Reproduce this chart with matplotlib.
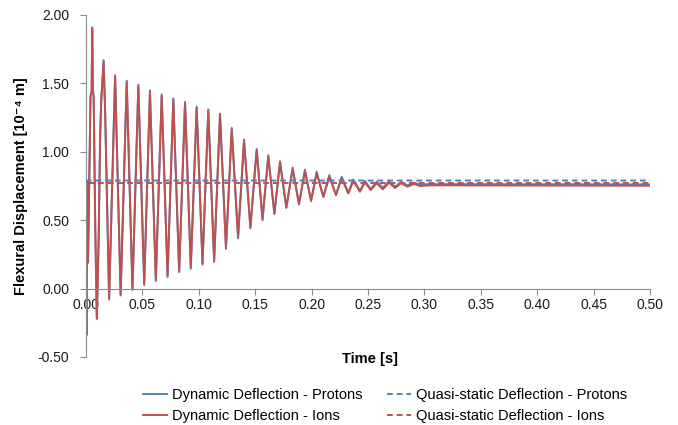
import numpy as np
import matplotlib
matplotlib.use('Agg')
import matplotlib.pyplot as plt

plt.rcParams['font.family'] = ['Liberation Sans', 'DejaVu Sans']
plt.rcParams['font.size'] = 10

# times of the read-off extrema [s]
time = [0.0000, 0.0004, 0.0012, 0.0018, 0.0040, 0.0050, 0.0055, 0.0061, 0.0068, 0.0082,
        0.0096, 0.0112, 0.0125, 0.0135, 0.0156, 0.0170, 0.0205, 0.0258, 0.0307, 0.0361,
        0.0412, 0.0464, 0.0516, 0.0567, 0.0619, 0.0671, 0.0723, 0.0774, 0.0826, 0.0878,
        0.0929, 0.0981, 0.1033, 0.1084, 0.1136, 0.1188, 0.1241, 0.1292, 0.1348, 0.1401,
        0.1457, 0.1513, 0.1565, 0.1616, 0.1670, 0.1720, 0.1776, 0.1832, 0.1888, 0.1941,
        0.1995, 0.2045, 0.2104, 0.2157, 0.2216, 0.2267, 0.2325, 0.2370, 0.2429, 0.2473,
        0.2525, 0.2577, 0.2632, 0.2686, 0.2740, 0.2793, 0.2850, 0.2908, 0.2960, 0.3050,
        0.5000]

dyn_protons = [0.00, -0.34, 0.78, 0.19, 1.41, 1.45, 1.91, 1.46, 1.41, 0.45,
               -0.22, 0.35, 1.11, 1.38, 1.67, 1.29, -0.08, 1.56, -0.05, 1.52,
               -0.01, 1.49, 0.025, 1.45, 0.055, 1.42, 0.085, 1.39, 0.12, 1.365,
               0.146, 1.33, 0.175, 1.31, 0.195, 1.28, 0.29, 1.175, 0.367, 1.09,
               0.44, 1.02, 0.50, 0.975, 0.545, 0.93, 0.59, 0.885, 0.615, 0.87,
               0.64, 0.855, 0.67, 0.83, 0.685, 0.818, 0.70, 0.797, 0.715, 0.787,
               0.728, 0.782, 0.737, 0.785, 0.745, 0.78, 0.755, 0.775, 0.76, 0.764,
               0.762]

dyn_ions = [0.00, -0.34, 0.75, 0.19, 1.40, 1.44, 1.90, 1.45, 1.40, 0.45,
            -0.22, 0.35, 1.10, 1.37, 1.66, 1.28, -0.07, 1.55, -0.04, 1.51,
            0.00, 1.48, 0.035, 1.44, 0.064, 1.41, 0.095, 1.38, 0.13, 1.355,
            0.156, 1.32, 0.185, 1.30, 0.205, 1.27, 0.30, 1.165, 0.377, 1.08,
            0.45, 1.01, 0.51, 0.965, 0.55, 0.92, 0.593, 0.873, 0.618, 0.86,
            0.642, 0.843, 0.67, 0.818, 0.684, 0.806, 0.696, 0.785, 0.708, 0.775,
            0.72, 0.77, 0.725, 0.775, 0.735, 0.77, 0.745, 0.765, 0.75, 0.755,
            0.752]

qs_time = [0.0, 0.0008, 0.5]
qs_protons = [0.0, 0.79, 0.79]
qs_ions = [0.0, 0.772, 0.772]

blue = '#4F81BD'
red = '#C0504D'
grey = '#8C8C8C'

fig = plt.figure(figsize=(6.78, 4.25), dpi=100)
ax = fig.add_axes([86/678, 1-357/425, 564/678, 342/425])

ax.plot(time, dyn_protons, color=blue, lw=1.4, solid_joinstyle='round',
        label='Dynamic Deflection - Protons')
ax.plot(time, dyn_ions, color=red, lw=1.4, solid_joinstyle='round',
        label='Dynamic Deflection - Ions')
ax.plot(qs_time, qs_protons, color=blue, lw=1.4, ls=(0, (3, 2)),
        label='Quasi-static Deflection - Protons')
ax.plot(qs_time, qs_ions, color=red, lw=1.4, ls=(0, (3, 2)),
        label='Quasi-static Deflection - Ions')

ax.set_xlim(0, 0.5)
ax.set_ylim(-0.5, 2.0)
ax.set_xticks(np.arange(0, 0.501, 0.05))
ax.set_yticks(np.arange(-0.5, 2.01, 0.5))
ax.xaxis.set_major_formatter(plt.FormatStrFormatter('%.2f'))
ax.yaxis.set_major_formatter(plt.FormatStrFormatter('%.2f'))

for s in ['top', 'right']:
  ax.spines[s].set_visible(False)
ax.spines['bottom'].set_position(('data', 0))
for s in ['left', 'bottom']:
  ax.spines[s].set_color(grey)
  ax.spines[s].set_linewidth(0.8)
ax.tick_params(axis='both', colors=grey, labelcolor='#1a1a1a', length=4, width=0.8, labelsize=10)
ax.tick_params(axis='y', pad=8)
ax.tick_params(axis='x', pad=3)

ax.set_xlabel('Time [s]', fontweight='bold', fontsize=10.5)
ax.xaxis.set_label_coords(0.503, 0.014)
ax.set_ylabel('Flexural Displacement [10⁻⁴ m]', fontweight='bold', fontsize=10.5)
ax.yaxis.set_label_coords(-0.103, 0.5)

fig.legend(loc='upper center', bbox_to_anchor=(0.568, 0.117), ncol=2, frameon=False,
           handlelength=1.65, handletextpad=0.35, columnspacing=1.65, labelspacing=0.45,
           fontsize=10.5)

fig.savefig('out.png', dpi=100)
